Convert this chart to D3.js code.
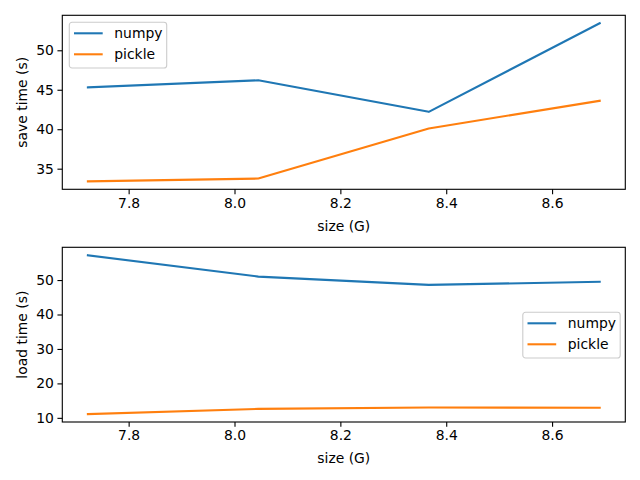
<!DOCTYPE html>
<html><head><meta charset="utf-8">
<script src="https://cdn.jsdelivr.net/npm/d3@7"></script>
<style>
body{margin:0;background:#fff;}
text{font-family:"DejaVu Sans",sans-serif;}
</style></head>
<body><svg id="c" width="640" height="480"></svg>
<script>
const sizes = [7.723, 8.045, 8.367, 8.690];
const saveNumpy = [45.3, 46.2, 42.2, 53.43];
const savePickle = [33.39, 33.75, 40.1, 43.6];
const loadNumpy = [57.2, 51.0, 48.6, 49.5];
const loadPickle = [11.1, 12.6, 13.0, 12.95];
const seriesNames = ["numpy", "pickle"];
const xTicks = [7.8, 8.0, 8.2, 8.4, 8.6];
const saveTicks = [35, 40, 45, 50];
const loadTicks = [10, 20, 30, 40, 50];
const colors = ["#1f77b4", "#ff7f0e"];

const svg = d3.select("#c");
const FS = 13.9;
const L = 62.3, R = 625.3;

function pad(ext){const d=ext[1]-ext[0];return [ext[0]-0.05*d, ext[1]+0.05*d];}

function panel(top, bottom, ys, yTicks, ylabel, xlabelY, legendPos){
  const x = d3.scaleLinear().domain(pad(d3.extent(sizes))).range([L, R]);
  const all = ys.flat();
  const y = d3.scaleLinear().domain(pad(d3.extent(all))).range([bottom, top]);
  const g = svg.append("g");
  const line = d3.line().x((d,i)=>x(sizes[i])).y(d=>y(d));
  ys.forEach((s,k)=>{
    g.append("path").attr("d", line(s)).attr("fill","none")
      .attr("stroke", colors[k]).attr("stroke-width",2.08)
      .attr("stroke-linejoin","round").attr("stroke-linecap","square");
  });
  const xa = g.append("g").attr("transform",`translate(0,${bottom})`)
    .call(d3.axisBottom(x).tickValues(xTicks).tickFormat(d3.format(".1f")).tickSize(4.86).tickPadding(3.5).tickSizeOuter(0));
  const ya = g.append("g").attr("transform",`translate(${L},0)`)
    .call(d3.axisLeft(y).tickValues(yTicks).tickFormat(d3.format("d")).tickSize(4.86).tickPadding(3.5).tickSizeOuter(0));
  [xa, ya].forEach(a=>{
    a.select(".domain").remove();
    a.selectAll("line").attr("stroke","#000").attr("stroke-width",1.11);
    a.selectAll("text").attr("font-size",FS).attr("font-family","DejaVu Sans").attr("fill","#000");
  });
  g.append("rect").attr("x",L).attr("y",top).attr("width",R-L).attr("height",bottom-top)
    .attr("fill","none").attr("stroke","#000").attr("stroke-width",1.11);
  g.append("text").attr("x",(L+R)/2).attr("y",xlabelY).attr("text-anchor","middle")
    .attr("dominant-baseline","central").attr("font-size",FS).text("size (G)");
  g.append("text").attr("transform",`translate(21.5,${(top+bottom)/2}) rotate(-90)`)
    .attr("text-anchor","middle").attr("dominant-baseline","central").attr("font-size",FS).text(ylabel);
  // legend
  const lg = g.append("g").attr("transform",`translate(${legendPos[0]},${legendPos[1]})`);
  lg.append("rect").attr("width",97.4).attr("height",45.7).attr("rx",2.8)
    .attr("fill","#fff").attr("fill-opacity",0.8).attr("stroke","#cccccc").attr("stroke-width",1.11);
  seriesNames.forEach((n,k)=>{
    const cy = 11 + k*21;
    lg.append("line").attr("x1",4.7).attr("x2",33.4).attr("y1",cy).attr("y2",cy)
      .attr("stroke",colors[k]).attr("stroke-width",2.08);
    lg.append("text").attr("x",45).attr("y",cy).attr("dominant-baseline","central")
      .attr("font-size",FS).text(n);
  });
}

panel(15.3, 189.3, [saveNumpy, savePickle], saveTicks, "save time (s)", 225.5, [69.3, 22.3]);
panel(247.3, 422, [loadNumpy, loadPickle], loadTicks, "load time (s)", 457.5, [522.8, 312.3]);
</script></body></html>
